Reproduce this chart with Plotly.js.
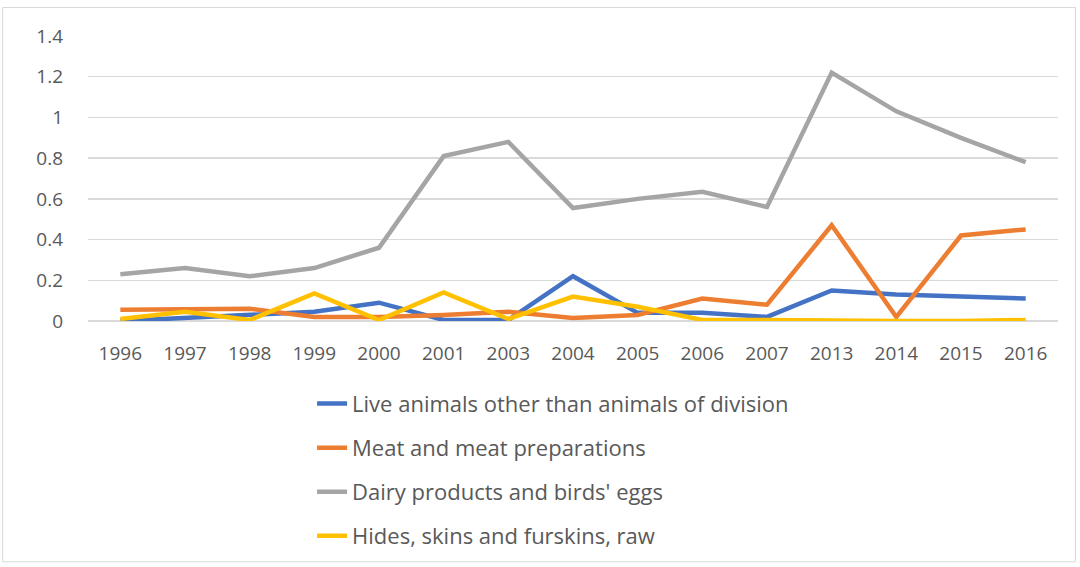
<!DOCTYPE html>
<html>
<head>
<meta charset="utf-8">
<script src="https://cdn.plot.ly/plotly-3.0.1.min.js"></script>
<style>html,body{margin:0;padding:0;background:#fff}#chart{width:1080px;height:567px}</style>
</head>
<body>
<div id="chart"></div>
<script>
const years = ['1996','1997','1998','1999','2000','2001','2003','2004','2005','2006','2007','2013','2014','2015','2016'];
const liveAnimals = [0.0,0.015,0.03,0.045,0.09,0.005,0.005,0.22,0.04,0.04,0.02,0.15,0.13,0.12,0.11];
const meat = [0.055,0.055,0.06,0.02,0.02,0.03,0.045,0.015,0.03,0.11,0.08,0.47,0.02,0.42,0.45];
const dairy = [0.23,0.26,0.22,0.26,0.36,0.81,0.88,0.555,0.60,0.635,0.56,1.22,1.03,0.90,0.78];
const hides = [0.01,0.045,0.005,0.135,0.005,0.14,0.01,0.12,0.07,0.005,0.005,0.0,0.0,0.0,0.005];
const names = ['Live animals other than animals of division','Meat and meat preparations',"Dairy products and birds' eggs",'Hides, skins and furskins, raw'];
const colors = ['#4472C4','#ED7D31','#A5A5A5','#FFC000'];
const series = [liveAnimals, meat, dairy, hides];

const traces = series.map((s,i)=>({
  x: years, y: s, name: names[i], type:'scatter', mode:'lines',
  line:{color:colors[i], width:4.5}, legendgroup:'g'+i
}));

const layout = {
  width:1080, height:567,
  margin:{l:88, r:22, t:36, b:246},
  paper_bgcolor:'#fff', plot_bgcolor:'#fff',
  font:{family:'"Open Sans", "Liberation Sans", sans-serif', color:'#595959'},
  xaxis:{type:'category', range:[-0.5,14.5], showgrid:false, zeroline:false, showline:false, ticks:'',
    tickfont:{size:19, color:'#595959'}, ticklabelstandoff:19, automargin:false},
  yaxis:{range:[0,1.4], dtick:0.2, showgrid:true, gridcolor:'#d9d9d9', gridwidth:1.5,
    zeroline:true, zerolinecolor:'#d9d9d9', zerolinewidth:1.5, showline:false, ticks:'',
    tickfont:{size:19, color:'#595959'}, ticklabelstandoff:24, automargin:false},
  showlegend:true,
  legend:{orientation:'v', x:0.231, xanchor:'left', xref:'paper', yref:'container', y:0.325, yanchor:'top',
    font:{size:22, color:'#595959'}, tracegroupgap:12.5, bgcolor:'rgba(0,0,0,0)'},
  shapes:[{type:'rect', xref:'paper', yref:'paper', x0:-0.088, x1:1.018, y0:-0.845, y1:1.1,
    line:{color:'#d9d9d9', width:1}}]
};
Plotly.newPlot('chart', traces, layout, {displayModeBar:false, staticPlot:true});
</script>
</body>
</html>
